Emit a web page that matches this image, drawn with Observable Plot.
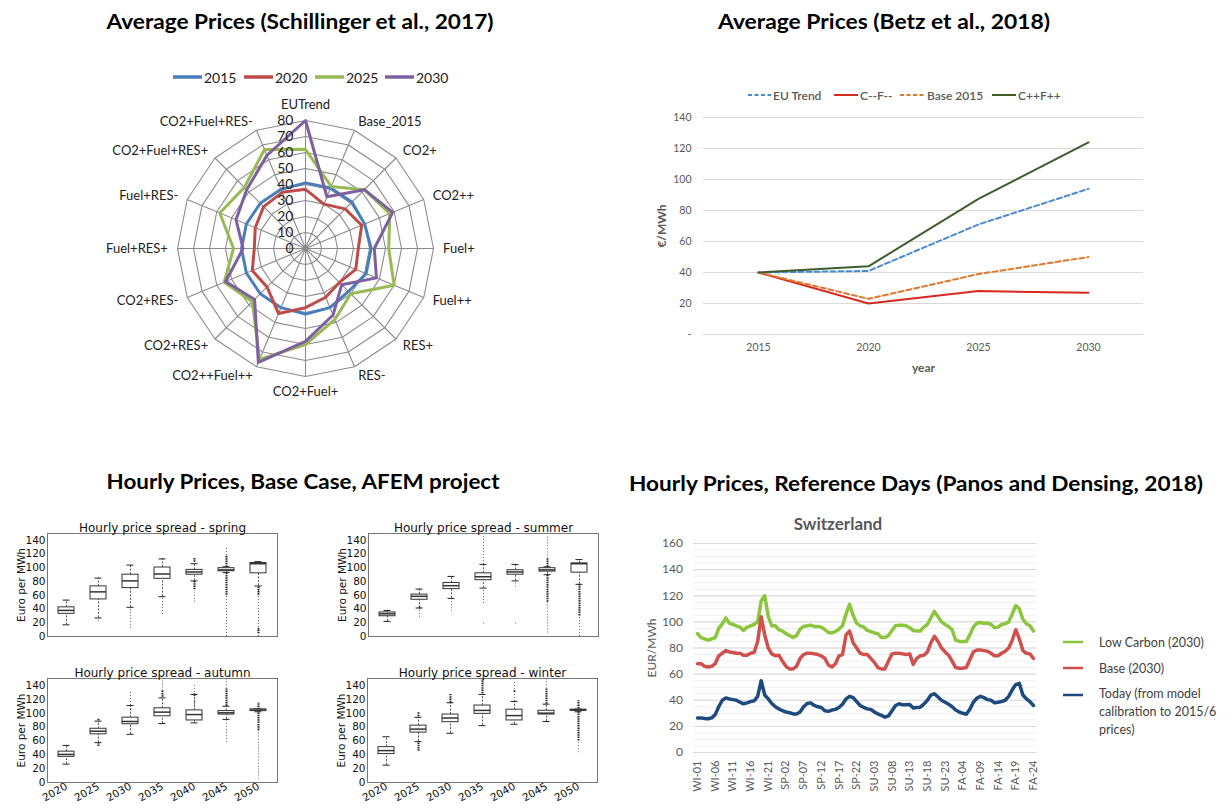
<!DOCTYPE html>
<html><head><meta charset="utf-8">
<script src="https://cdn.jsdelivr.net/npm/d3@7"></script>
<script src="https://cdn.jsdelivr.net/npm/@observablehq/plot@0.6"></script>
<style>
html,body{margin:0;padding:0;background:#fff;}
#root{position:relative;width:1232px;height:808px;overflow:hidden;font-family:Lato,"Open Sans",sans-serif;}
.t{position:absolute;white-space:nowrap;transform:translate(-50%,-50%);font-weight:700;font-size:21px;color:#000;line-height:1;}
.leg{position:absolute;white-space:nowrap;display:flex;align-items:center;height:20px;}
.leg svg{flex:none;}
.betz g[aria-label="x-axis label"] text, .betz g[aria-label="y-axis label"] text{font-weight:bold;font-size:12px;}
</style></head><body><div id="root"></div>
<script>
// ---------------- DATA ----------------
// Panel 1: radar (Schillinger et al., 2017)
const radarCategories = ["EUTrend","Base_2015","CO2+","CO2++","Fuel+","Fuel++","RES+","RES-","CO2+Fuel+","CO2++Fuel++","CO2+RES+","CO2+RES-","Fuel+RES+","Fuel+RES-","CO2+Fuel+RES+","CO2+Fuel+RES-"];
const radarYears = ["2015","2020","2025","2030"];
const radar2015 = [41,41,41,40,41,41,38,40,41,40,40,40,40,40,40,40];
const radar2020 = [37,30,35,38,33,34,30,33,37,44,34,36,32,34,37,38];
const radar2025 = [62,42,52,57,52,60,40,48,60,75,47,55,45,58,54,67];
const radar2030 = [80,35,52,59,43,48,32,45,58,77,45,54,39,47,52,63];
const radarTicks = [0,10,20,30,40,50,60,70,80];
const radarColors = ["#4A7EBB","#BE4B48","#98B954","#7D60A0"];

// Panel 2: lines (Betz et al., 2018)
const betzYears = ["2015","2020","2025","2030"];
const betzSeries = ["EU Trend","C--F--","Base 2015","C++F++"];
const betzEUTrend = [40,41,71,94];
const betzCmFm = [40,20,28,27];
const betzBase2015 = [40,23,39,50];
const betzCpFp = [40,44,87.5,124];
const betzTicks = [0,20,40,60,80,100,120,140];
const betzColors = ["#4A8BD0","#D42A20","#E0782E","#3D5E2C"];
const betzDashed = [true,false,true,false];

// Panel 3: box plots (AFEM project) - [whisker low, q1, median, q3, whisker high]
const boxYears = ["2020","2025","2030","2035","2040","2045","2050"];
const boxTicks = [0,20,40,60,80,100,120,140];
const springStats = [[17,33,38,42.5,53],[27,54,65,73,85],[42.5,70.5,81,90,104],[58,84,91,100.5,113],[81,90,94,97,106],[93,95,97,99.5,101.5],[73.5,92,106,107,109]];
const summerStats = [[22,29.5,33,35,38],[41.5,53.5,58.5,61,69],[55.5,69,74,78,87.5],[70.5,82,87,92,105],[81,90,94,96.5,105],[90,94.5,97,99.5,101.5],[76,93,106,106.5,112]];
const autumnStats = [[26.5,37,40.5,44.5,53.5],[57.5,69.5,74,77.5,88.5],[69.5,84,88,93.5,111],[85,95.5,101.5,107,122],[86,89.5,98,104,127],[91,98,100.5,103,110],[102,103,104.5,105.5,106.5]];
const winterStats = [[25,41,46,51,66],[59,72,77,82,94],[71,87,93,98,115],[82,99,104,111,127],[84,89.5,96.5,105,117],[88,98,100,103.5,113],[102,103.5,104.5,105,106]];
// outlier ranges [year, from, to]
const springSparse = [["2025",22,26],["2030",12,41],["2035",32,57],["2040",50,66],["2045",0,60],["2045",118,130],["2050",0,73]];
const springDense = [["2040",108,114],["2040",68,80],["2045",60,93],["2045",101,118],["2050",60,73],["2050",4,12]];
const summerSparse = [["2025",28,40],["2030",36,54],["2035",105,150],["2035",48,68],["2035",18,21],["2040",72,80],["2040",18,20],["2045",5,50],["2045",113,145],["2050",0,30]];
const summerDense = [["2025",40,44],["2045",50,90],["2045",101,113],["2050",30,76]];
const autumnSparse = [["2030",111,130],["2035",132,150],["2040",104,140],["2045",135,150],["2045",58,90],["2050",5,75]];
const autumnDense = [["2025",52,56],["2025",89,92],["2035",123,132],["2040",124,128],["2045",110,135],["2050",75,115]];
const winterSparse = [["2040",117,147],["2045",135,150],["2050",43,60]];
const winterDense = [["2025",45,58],["2025",95,101],["2030",115,127],["2035",128,150],["2040",130,133],["2045",113,135],["2050",60,118]];

// Panel 4: Switzerland reference days (Panos and Densing, 2018)
const swissSeasons = ["WI","SP","SU","FA"];
const swissTickLabels = ["WI-01","WI-06","WI-11","WI-16","WI-21","SP-02","SP-07","SP-12","SP-17","SP-22","SU-03","SU-08","SU-13","SU-18","SU-23","FA-04","FA-09","FA-14","FA-19","FA-24"];
const swissNames = ["Low Carbon (2030)","Base (2030)","Today (from model calibration to 2015/6 prices)"];
const swissLowCarbon = [91,88,87,86,87,88,95,98.5,103,99,98,97,96,93.5,96,97,98,100,116,120,104,97,97,94,
  93,91,89.5,88,89.5,94.5,96.5,97,97.5,96.5,96.5,96,94,92,91.5,92.5,94.5,97,106,113.5,105,99,97,96,
  93.5,92.5,91.5,91,88,88,89.5,93.5,97,97.5,97.5,97,95.5,93.4,93,93,96,98,103,108,104,100,98,96.5,
  94,86,85,85,85,90,96,99,99.5,99,99,98,95.5,96,98,98.5,100,106,112.5,110,102,98.5,97,93];
const swissBase = [68,68,66,65.5,66,68,74,76,78,77,76.5,76,76,74.5,74.5,76,76.5,85,104,90,80,75.5,74,74.5,
  70,66,64,64,66,72,75,76,76,75.5,75,74,72,67,65.5,68,74,75,90,93,84,80,76,75,
  75,72,69,65,64,64,70,75.5,76,76,75.5,75,75.5,67.5,72,74,74.5,77,84,89,85,80,77,74.5,
  70,65,64.5,64.5,65,71,77,78.5,78.5,78,77.5,76,74,74,76,77.5,80,86,94,87,78,76,75.5,72];
const swissToday = [26.5,26.5,26,25.8,26.5,29,35,40,41.8,41,40.5,40,38.5,37.3,38,39,39.5,43,55,44,41,37.5,35,33.4,
  32,31,30.5,29.5,29.5,31,35,37.5,38,36,35,34.5,32,31.5,32.5,33,34.5,37,41,43,42,39,36,34.5,
  33.4,33,31,29.6,28.5,27,28,32,36,37.3,36.5,36.5,36.7,34,34.5,34.7,37,40,44,45,42.5,40,38.5,37,
  35,32.5,31,30,29.3,33,38.5,41.5,43,42,40.5,40,38,38.5,39,40,43,48,52,53,44,41,39,36];
const swissTicks = [0,20,40,60,80,100,120,140,160];
const swissColors = ["#8CC63F","#D0504E","#1E4A7E"];

// ---------------- HELPERS ----------------
const root = document.getElementById("root");
function addPlot(svg, left, top, cls) {
  svg.style.position = "absolute"; svg.style.left = left + "px"; svg.style.top = top + "px";
  if (cls) svg.classList.add(cls);
  root.appendChild(svg);
}
function addTitle(text, cx, cy, targetWidth, css) {
  const d = document.createElement("div");
  d.className = "t"; d.textContent = text;
  d.style.left = cx + "px"; d.style.top = cy + "px";
  Object.assign(d.style, css || {});
  root.appendChild(d);
  if (targetWidth) {
    const w = d.getBoundingClientRect().width;
    d.style.transform = `translate(-50%,-50%) scaleX(${targetWidth / w})`;
  }
}
function addLegend(x, y, color, dash, label, lineW, gap, sw, css) {
  const d = document.createElement("div");
  d.className = "leg";
  d.style.left = x + "px"; d.style.top = (y - 10) + "px";
  const ns = "http://www.w3.org/2000/svg";
  const s = document.createElementNS(ns, "svg");
  s.setAttribute("width", lineW); s.setAttribute("height", 20);
  const l = document.createElementNS(ns, "line");
  l.setAttribute("x1", 0); l.setAttribute("x2", lineW); l.setAttribute("y1", 10); l.setAttribute("y2", 10);
  l.setAttribute("stroke", color); l.setAttribute("stroke-width", sw);
  if (dash) l.setAttribute("stroke-dasharray", dash);
  s.appendChild(l); d.appendChild(s);
  const sp = document.createElement("span");
  sp.style.marginLeft = gap + "px";
  sp.innerHTML = label;
  d.appendChild(sp);
  Object.assign(d.style, css || {});
  root.appendChild(d);
}

// ---------------- PANEL 1: RADAR ----------------
const ang = i => i * 2 * Math.PI / radarCategories.length;
const polar = (v, i) => ({x: v * Math.sin(ang(i)), y: v * Math.cos(ang(i))});
const radarSeries = [radar2015, radar2020, radar2025, radar2030];
const radarRows = radarSeries.flatMap((vals, s) => vals.map((v, i) => ({year: radarYears[s], ...polar(v, i)})));
const rMax = radarTicks[radarTicks.length - 1];
const ringRows = radarTicks.slice(1).flatMap(r => radarCategories.map((c, i) => ({r, ...polar(r, i)})));
const spokeRows = radarCategories.map((c, i) => polar(rMax, i));
const labelRows = radarCategories.map((c, i) => ({c, i, ...polar(i % 8 === 0 ? rMax * 1.12 : rMax * 1.075, i)}));
const radar = Plot.plot({
  width: 600, height: 320, margin: 0,
  x: {domain: [-190.625, 184.375], axis: null},
  y: {domain: [-101.25, 98.75], axis: null},
  color: {domain: radarYears, range: radarColors},
  style: {fontFamily: "Lato, sans-serif", fontSize: "13px", color: "#222", background: "transparent", overflow: "visible"},
  marks: [
    Plot.link(spokeRows, {x1: 0, y1: 0, x2: "x", y2: "y", stroke: "#8a8a8a", strokeWidth: 1.1}),
    Plot.line(ringRows, {x: "x", y: "y", z: "r", curve: "linear-closed", stroke: "#8a8a8a", strokeWidth: 1.1}),
    Plot.line(radarRows, {x: "x", y: "y", z: "year", stroke: "year", curve: "linear-closed", strokeWidth: 3, strokeLinejoin: "round"}),
    Plot.text(radarTicks, {x: 0, y: d => d, text: d => String(d), textAnchor: "end", dx: -12, fontSize: 14}),
    Plot.text(labelRows.filter(d => d.i > 0 && d.i < 8), {x: "x", y: "y", text: "c", textAnchor: "start"}),
    Plot.text(labelRows.filter(d => d.i > 8), {x: "x", y: "y", text: "c", textAnchor: "end"}),
    Plot.text(labelRows.filter(d => d.i % 8 === 0), {x: "x", y: "y", text: "c", textAnchor: "middle"})
  ]
});
addPlot(radar, 0, 90);
addTitle("Average Prices (Schillinger et al., 2017)", 300, 20, 387);
[173, 244, 315, 385].forEach((x, k) => addLegend(x, 77, radarColors[k], null, radarYears[k], 29, 2, 3.5, {fontSize: "14px", color: "#222"}));

// ---------------- PANEL 2: BETZ ----------------
const betzValues = [betzEUTrend, betzCmFm, betzBase2015, betzCpFp];
const betzRows = betzValues.flatMap((vals, s) => vals.map((v, j) => ({series: betzSeries[s], year: betzYears[j], v})));
const betz = Plot.plot({
  width: 560, height: 290, marginLeft: 63, marginRight: 57, marginTop: 17, marginBottom: 56,
  x: {type: "point", domain: betzYears, padding: 0.5, axis: null},
  y: {domain: [0, 140], axis: null},
  style: {fontFamily: "Lato, sans-serif", fontSize: "10.5px", color: "#595959", background: "transparent", overflow: "visible"},
  marks: [
    Plot.ruleY(betzTicks, {stroke: "#d9d9d9"}),
    Plot.axisX({tickSize: 0, tickPadding: 9, label: "year", labelAnchor: "center", labelOffset: 37, labelArrow: "none"}),
    Plot.axisY(betzTicks, {tickSize: 0, tickPadding: 12, tickFormat: d => d === 0 ? "-" : String(d), label: "€/MWh", labelAnchor: "center", labelOffset: 46, labelArrow: "none"}),
    ...betzSeries.map((name, s) => Plot.line(betzRows.filter(d => d.series === name), {x: "year", y: "v", stroke: betzColors[s], strokeWidth: 2, strokeDasharray: betzDashed[s] ? "5,3" : null}))
  ]
});
addPlot(betz, 640, 100, "betz");
addTitle("Average Prices (Betz et al., 2018)", 884, 20, 332);
[[748, 23], [834, 24], [900, 25], [992, 24]].forEach(([x, w], k) => addLegend(x, 95, betzColors[k], betzDashed[k] ? "4,2.5" : null, betzSeries[k], w, 2, 2, {fontSize: "12px", fontWeight: "600", color: "#595959"}));

// ---------------- PANEL 3: BOX PLOTS ----------------
function boxChart(stats, sparse, dense, name, showX) {
  const rows = stats.map((s, k) => ({year: boxYears[k], lo: s[0], q1: s[1], med: s[2], q3: s[3], hi: s[4]}));
  return Plot.plot({
    width: 300, height: showX ? 148 : 135, marginLeft: 47, marginRight: 23, marginTop: 18, marginBottom: showX ? 26 : 14,
    x: {type: "band", domain: boxYears, padding: 0, axis: null},
    y: {domain: [0, 150], axis: null},
    style: {fontFamily: "'DejaVu Sans', sans-serif", fontSize: "10.5px", color: "#111", background: "transparent", overflow: "visible"},
    marks: [
      Plot.ruleX(sparse, {x: d => d[0], y1: d => d[1], y2: d => d[2], stroke: "#666", strokeDasharray: "1,2"}),
      Plot.ruleX(dense, {x: d => d[0], y1: d => d[1], y2: d => d[2], stroke: "#222", strokeWidth: 2, strokeDasharray: "1.5,0.8"}),
      Plot.ruleX(rows, {x: "year", y1: "lo", y2: "q1", stroke: "#555", strokeDasharray: "2,1.5"}),
      Plot.ruleX(rows, {x: "year", y1: "q3", y2: "hi", stroke: "#555", strokeDasharray: "2,1.5"}),
      Plot.tickY(rows, {x: "year", y: "lo", insetLeft: 12.5, insetRight: 12.5, stroke: "#222"}),
      Plot.tickY(rows, {x: "year", y: "hi", insetLeft: 12.5, insetRight: 12.5, stroke: "#222"}),
      Plot.barY(rows, {x: "year", y1: "q1", y2: "q3", fill: "white", stroke: "#333", insetLeft: 8, insetRight: 8}),
      Plot.tickY(rows, {x: "year", y: "med", insetLeft: 8, insetRight: 8, stroke: "#333", strokeWidth: 1.5}),
      Plot.frame({stroke: "#777"}),
      Plot.axisY(boxTicks, {tickSize: 0, tickPadding: 2, label: "Euro per MWh", labelAnchor: "center", labelOffset: 30, labelArrow: "none"}),
      showX ? Plot.axisX({tickRotate: -30, tickSize: 0, tickPadding: 3, label: null}) : null,
      Plot.text([name], {frameAnchor: "top", dy: -2, lineAnchor: "bottom", text: d => d, fontSize: 12})
    ]
  });
}
addPlot(boxChart(springStats, springSparse, springDense, "Hourly price spread - spring", false), 0, 515);
addPlot(boxChart(summerStats, summerSparse, summerDense, "Hourly price spread - summer", false), 321, 515);
addPlot(boxChart(autumnStats, autumnSparse, autumnDense, "Hourly price spread - autumn", true), 0, 660);
addPlot(boxChart(winterStats, winterSparse, winterDense, "Hourly price spread - winter", true), 320, 660);
addTitle("Hourly Prices, Base Case, AFEM project", 303, 480, 393);

// ---------------- PANEL 4: SWITZERLAND ----------------
const hourCategories = swissSeasons.flatMap(s => d3.range(1, 25).map(h => `${s}-${String(h).padStart(2, "0")}`));
const swissTickIdx = swissTickLabels.map(l => hourCategories.indexOf(l));
const swissValues = [swissLowCarbon, swissBase, swissToday];
const swissRows = swissValues.flatMap((vals, s) => vals.map((v, i) => ({series: swissNames[s], i, v})));
const swissMinor = d3.range(0, 161, 5);
const swiss = Plot.plot({
  width: 430, height: 303, marginLeft: 63.5, marginRight: 23.5, marginTop: 38, marginBottom: 56,
  x: {domain: [-1, 96], axis: null},
  y: {domain: [0, 160], axis: null},
  color: {domain: swissNames, range: swissColors},
  style: {fontFamily: "Lato, sans-serif", fontSize: "12px", color: "#595959", background: "transparent", overflow: "visible"},
  marks: [
    Plot.ruleY(swissMinor, {stroke: "#efefef"}),
    Plot.ruleY(swissTicks, {stroke: "#d9d9d9"}),
    Plot.axisY(swissTicks, {tickSize: 0, tickPadding: 11, label: "EUR/MWh", labelAnchor: "center", labelOffset: 47, labelArrow: "none"}),
    Plot.axisX(swissTickIdx, {tickFormat: i => hourCategories[i], tickRotate: -90, tickSize: 0, tickPadding: 8, label: null, fontSize: 11}),
    Plot.line(swissRows, {x: "i", y: "v", z: "series", stroke: "series", strokeWidth: 3.5, strokeLinejoin: "round"})
  ]
});
addPlot(swiss, 630, 505);
addTitle("Hourly Prices, Reference Days (Panos and Densing, 2018)", 916, 482, 574);
addTitle("Switzerland", 838, 523, null, {fontSize: "17px", color: "#595959"});
addLegend(1063, 642, swissColors[0], null, "Low Carbon (2030)", 20, 16, 2.5, {fontSize: "12.5px", color: "#404040"});
addLegend(1063, 668, swissColors[1], null, "Base (2030)", 20, 16, 2.5, {fontSize: "12.5px", color: "#404040"});
addLegend(1063, 695, swissColors[2], null, "Today (from model<br>calibration to 2015/6<br>prices)", 20, 16, 2.5, {fontSize: "12.5px", color: "#404040", lineHeight: "18px", alignItems: "flex-start", height: "60px"});
</script></body></html>
